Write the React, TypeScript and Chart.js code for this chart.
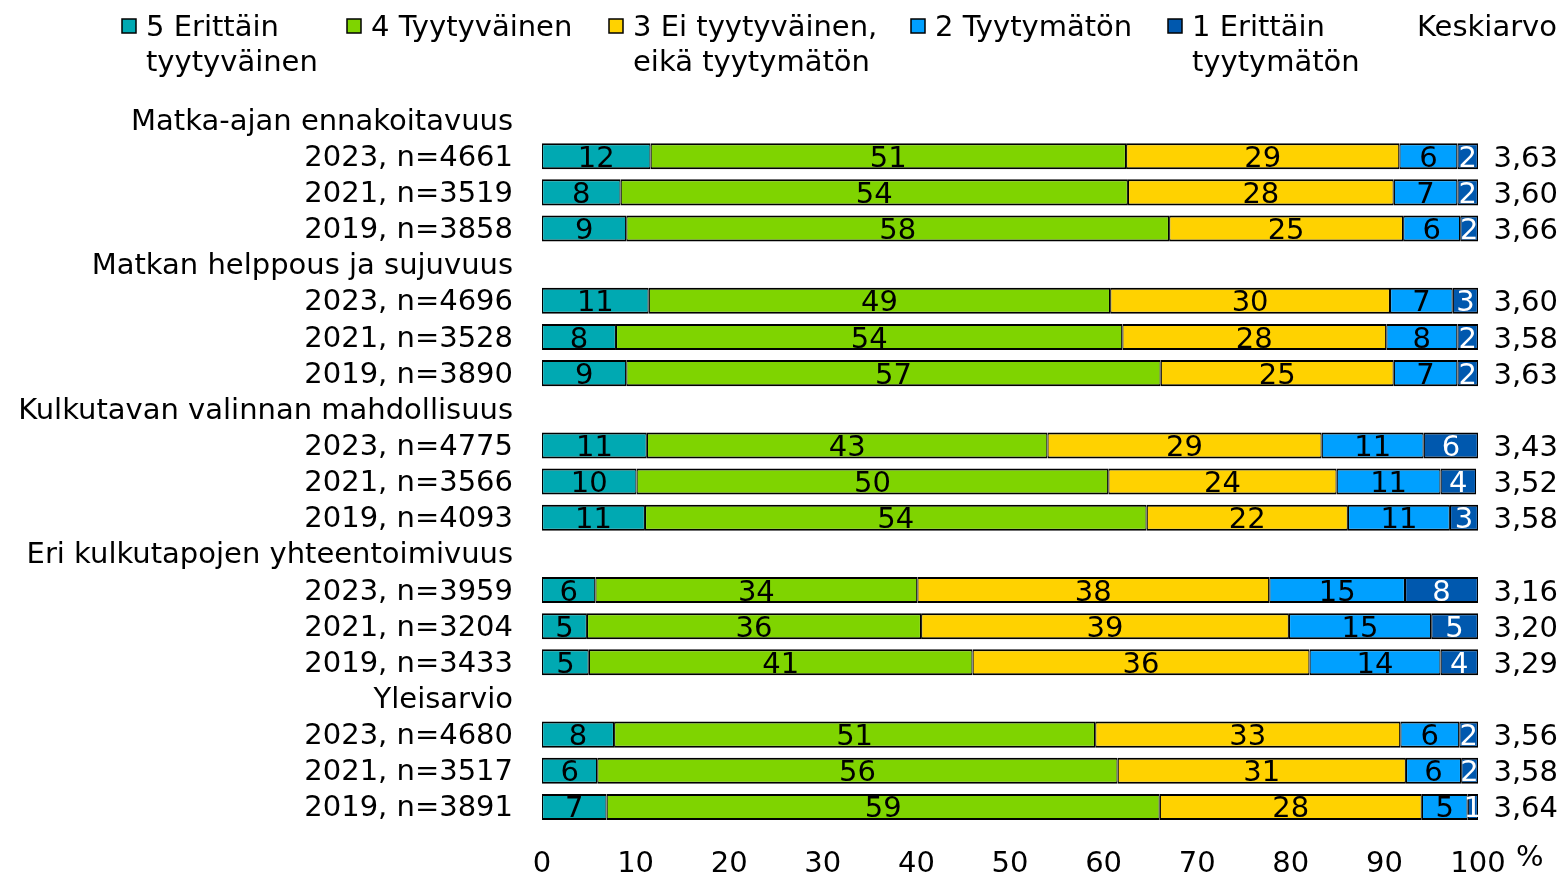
import React, { useEffect, useRef } from "react";
import { Chart, registerables } from "chart.js";

Chart.register(...registerables);

const categories = [
  "Matka-ajan ennakoitavuus", "2023, n=4661", "2021, n=3519", "2019, n=3858",
  "Matkan helppous ja sujuvuus", "2023, n=4696", "2021, n=3528", "2019, n=3890",
  "Kulkutavan valinnan mahdollisuus", "2023, n=4775", "2021, n=3566", "2019, n=4093",
  "Eri kulkutapojen yhteentoimivuus", "2023, n=3959", "2021, n=3204", "2019, n=3433",
  "Yleisarvio", "2023, n=4680", "2021, n=3517", "2019, n=3891",
];

const seriesNames = [
  ["5 Erittäin", "tyytyväinen"],
  ["4 Tyytyväinen"],
  ["3 Ei tyytyväinen,", "eikä tyytymätön"],
  ["2 Tyytymätön"],
  ["1 Erittäin", "tyytymätön"],
];

const seriesColors = ["#00A9B2", "#7FD400", "#FFD200", "#00A0FF", "#0058AE"];

const erittainTyytyvainen = [null, 11.6, 8.4, 9.0, null, 11.4, 7.9, 9.0, null, 11.2, 10.1, 11.0, null, 5.7, 4.8, 5.0, null, 7.7, 5.9, 6.9];
const tyytyvainen = [null, 50.8, 54.2, 58.0, null, 49.3, 54.1, 57.1, null, 42.8, 50.4, 53.6, null, 34.4, 35.7, 41.0, null, 51.4, 55.6, 59.1];
const eiTyytyvainenEikaTyytymaton = [null, 29.2, 28.4, 25.0, null, 29.9, 28.2, 24.9, null, 29.3, 24.4, 21.5, null, 37.6, 39.3, 36.0, null, 32.6, 30.8, 28.0];
const tyytymaton = [null, 6.2, 6.8, 6.1, null, 6.7, 7.6, 6.8, null, 10.9, 11.1, 10.9, null, 14.5, 15.2, 14.0, null, 6.3, 5.9, 4.9];
const erittainTyytymaton = [null, 2.2, 2.2, 1.9, null, 2.7, 2.2, 2.2, null, 5.8, 3.8, 3.0, null, 7.8, 5.0, 4.0, null, 2.0, 1.8, 1.1];

const keskiarvo = [null, 3.63, 3.60, 3.66, null, 3.60, 3.58, 3.63, null, 3.43, 3.52, 3.58, null, 3.16, 3.20, 3.29, null, 3.56, 3.58, 3.64];

const xTicks = [0, 10, 20, 30, 40, 50, 60, 70, 80, 90, 100];

const FONT = "DejaVu Sans";
const FS = 29;

const overlayPlugin = {
  id: "overlay",
  afterDatasetsDraw(chart: any) {
    const ctx = chart.ctx;
    ctx.save();
    ctx.font = `${FS}px "${FONT}"`;
    ctx.textAlign = "center";
    ctx.textBaseline = "middle";
    chart.data.datasets.forEach((ds: any, di: number) => {
      const meta = chart.getDatasetMeta(di);
      meta.data.forEach((el: any, i: number) => {
        const v = ds.data[i];
        if (v == null) return;
        const cx = (el.x + el.base) / 2;
        ctx.fillStyle = di === 4 ? "#FFFFFF" : "#000000";
        ctx.fillText(String(Math.round(v)), cx, el.y + 3);
      });
    });
    ctx.restore();
  },
  afterDraw(chart: any) {
    const ctx = chart.ctx;
    const yScale = chart.scales.y;
    ctx.save();
    ctx.font = `${FS}px "${FONT}"`;
    ctx.fillStyle = "#000";
    ctx.textBaseline = "middle";
    // Keskiarvo column
    ctx.textAlign = "right";
    keskiarvo.forEach((v, i) => {
      if (v == null) return;
      ctx.fillText(v.toFixed(2).replace(".", ","), 1558, yScale.getPixelForValue(i) + 3);
    });
    ctx.fillText("Keskiarvo", 1557, 28);
    // percent sign
    ctx.textAlign = "left";
    ctx.fillText("%", 1516, 858);
    // legend
    const legendX = [122, 347, 609, 911, 1168];
    seriesNames.forEach((lines, i) => {
      const sx = legendX[i];
      ctx.fillStyle = seriesColors[i];
      ctx.fillRect(sx, 19, 14, 14);
      ctx.strokeStyle = "#000";
      ctx.lineWidth = 1.5;
      ctx.strokeRect(sx, 19, 14, 14);
      ctx.fillStyle = "#000";
      ctx.textAlign = "left";
      lines.forEach((t, li) => {
        ctx.fillText(t, sx + 24, 28 + li * 35);
      });
    });
    ctx.restore();
  },
};

export default function App() {
  const ref = useRef<HTMLCanvasElement | null>(null);
  useEffect(() => {
    if (!ref.current) return;
    const seriesData = [erittainTyytyvainen, tyytyvainen, eiTyytyvainenEikaTyytymaton, tyytymaton, erittainTyytymaton];
    const chart = new Chart(ref.current, {
      type: "bar",
      data: {
        labels: categories,
        datasets: seriesData.map((d, i) => ({
          label: seriesNames[i].join(" "),
          data: d as any,
          backgroundColor: seriesColors[i],
          borderColor: "#000",
          borderWidth: { top: 2, bottom: 2, left: 1.2, right: 1.2 },
          borderSkipped: false,
          categoryPercentage: 1,
          barPercentage: 0.72,
        })),
      },
      options: {
        indexAxis: "y",
        animation: false,
        responsive: true,
        maintainAspectRatio: false,
        layout: { padding: { top: 102, right: 87, left: 0, bottom: 0 } },
        plugins: { legend: { display: false }, tooltip: { enabled: false } },
        scales: {
          x: {
            stacked: true,
            min: 0,
            max: 100,
            afterBuildTicks: (s: any) => {
              s.ticks = xTicks.map((v) => ({ value: v }));
            },
            ticks: { font: { family: FONT, size: FS }, color: "#000", padding: 22, maxRotation: 0, autoSkip: false },
            grid: { display: false, drawTicks: false },
            border: { display: false },
            afterFit: (s: any) => {
              s.height = 47;
            },
          },
          y: {
            stacked: true,
            ticks: { font: { family: FONT, size: FS }, color: "#000", padding: 29, autoSkip: false, labelOffset: 2 },
            grid: { display: false, drawTicks: false },
            border: { display: false },
            afterFit: (s: any) => {
              s.width = 542;
            },
          },
        },
      },
      plugins: [overlayPlugin],
    });
    return () => chart.destroy();
  }, []);
  return (
    <div style={{ position: "fixed", left: 0, top: 0, width: 1565, height: 872, background: "#fff" }}>
      <canvas ref={ref} />
    </div>
  );
}
